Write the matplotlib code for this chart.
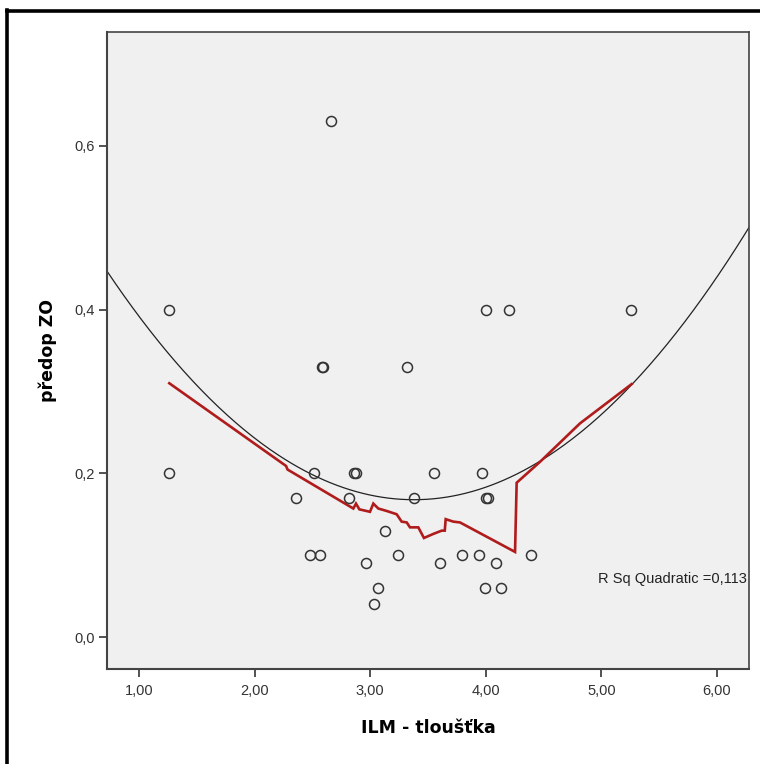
import numpy as np
import matplotlib
matplotlib.use("Agg")
import matplotlib.pyplot as plt
from matplotlib.lines import Line2D
from matplotlib.ticker import FixedLocator, FuncFormatter

# ---- data ----
ilm_x = [1.26, 1.26, 2.36, 2.48, 2.51, 2.57, 2.58, 2.59, 2.66, 2.82, 2.86, 2.88,
         2.96, 3.03, 3.07, 3.13, 3.24, 3.32, 3.38, 3.55, 3.60, 3.79, 3.94, 3.97,
         3.99, 4.00, 4.00, 4.02, 4.09, 4.13, 4.20, 4.39, 5.26]
zo_y = [0.40, 0.20, 0.17, 0.10, 0.20, 0.10, 0.33, 0.33, 0.63, 0.17, 0.20, 0.20,
        0.09, 0.04, 0.06, 0.13, 0.10, 0.33, 0.17, 0.20, 0.09, 0.10, 0.10, 0.20,
        0.06, 0.40, 0.17, 0.17, 0.09, 0.06, 0.40, 0.10, 0.40]

loess_x = [1.262, 2.272, 2.285, 2.854, 2.877, 2.906, 2.998, 3.027, 3.070, 3.143,
           3.229, 3.272, 3.316, 3.344, 3.416, 3.465, 3.546, 3.619, 3.645, 3.653,
           3.719, 3.777, 4.253, 4.267, 4.469, 4.815, 5.262]
loess_y = [0.310, 0.209, 0.2046, 0.157, 0.163, 0.156, 0.153, 0.163, 0.157, 0.154,
           0.150, 0.141, 0.140, 0.134, 0.134, 0.121, 0.126, 0.130, 0.130, 0.144,
           0.141, 0.140, 0.104, 0.1885, 0.214, 0.261, 0.309]

x_ticks = [1, 2, 3, 4, 5, 6]
y_ticks = [0.0, 0.2, 0.4, 0.6]
x_label = "ILM - tloušťka"
y_label = "předop ZO"
r2_text = "R Sq Quadratic =0,113"

# ---- figure ----
fig = plt.figure(figsize=(7.6, 7.64), dpi=100)
W, H = 760, 764
ax = fig.add_axes([107 / W, 1 - 669 / H, (749 - 107) / W, (669 - 32) / H])
ax.set_facecolor("#f0f0f0")

ax.set_xlim(0.723, 6.277)
ax.set_ylim(-0.039, 0.739)

# quadratic fit from data
coef = np.polyfit(ilm_x, zo_y, 2)
xx = np.linspace(0.723, 6.277, 300)
ax.plot(xx, np.polyval(coef, xx), color="#222222", lw=0.9, zorder=2)

# loess line
ax.plot(loess_x, loess_y, color="#b01c1c", lw=1.9, zorder=3, solid_joinstyle="miter")

# scatter
ax.plot(ilm_x, zo_y, linestyle="none", marker="o", markersize=7.2,
        markerfacecolor="none", markeredgecolor="#333333", markeredgewidth=1.1, zorder=4)

for s in ax.spines.values():
    s.set_color("#444444")
    s.set_linewidth(1.2)
ax.spines["left"].set_linewidth(1.5)
ax.spines["bottom"].set_linewidth(1.5)

ax.xaxis.set_major_locator(FixedLocator(x_ticks))
ax.yaxis.set_major_locator(FixedLocator(y_ticks))
ax.xaxis.set_major_formatter(FuncFormatter(lambda v, p: f"{v:.2f}".replace(".", ",")))
ax.yaxis.set_major_formatter(FuncFormatter(lambda v, p: f"{v:.1f}".replace(".", ",")))
ax.tick_params(direction="out", length=6, width=1.3, color="#444444",
               labelsize=10.5, labelcolor="#333333")
ax.tick_params(axis="x", pad=5)
ax.tick_params(axis="y", pad=3)
for lab in ax.get_xticklabels() + ax.get_yticklabels():
    lab.set_fontfamily("Liberation Sans")

ax.set_xlabel(x_label, fontsize=12.5, fontweight="bold", family="DejaVu Sans", labelpad=15)
ax.set_ylabel(y_label, fontsize=12.5, fontweight="bold", family="DejaVu Sans", labelpad=12)

ax.text(0.997, 0.141, r2_text, transform=ax.transAxes, ha="right", va="center",
        fontsize=10.5, family="Liberation Sans", color="#222222")

# outer frame (left and top edges)
fig.add_artist(Line2D([7 / W, 7 / W], [0, 1 - 10 / H], color="black", lw=2.6,
                      transform=fig.transFigure, solid_capstyle="projecting"))
fig.add_artist(Line2D([7 / W, 1], [1 - 11 / H, 1 - 11 / H], color="black", lw=2.6,
                      transform=fig.transFigure, solid_capstyle="projecting"))

fig.savefig("out.png", dpi=100, facecolor="white")
